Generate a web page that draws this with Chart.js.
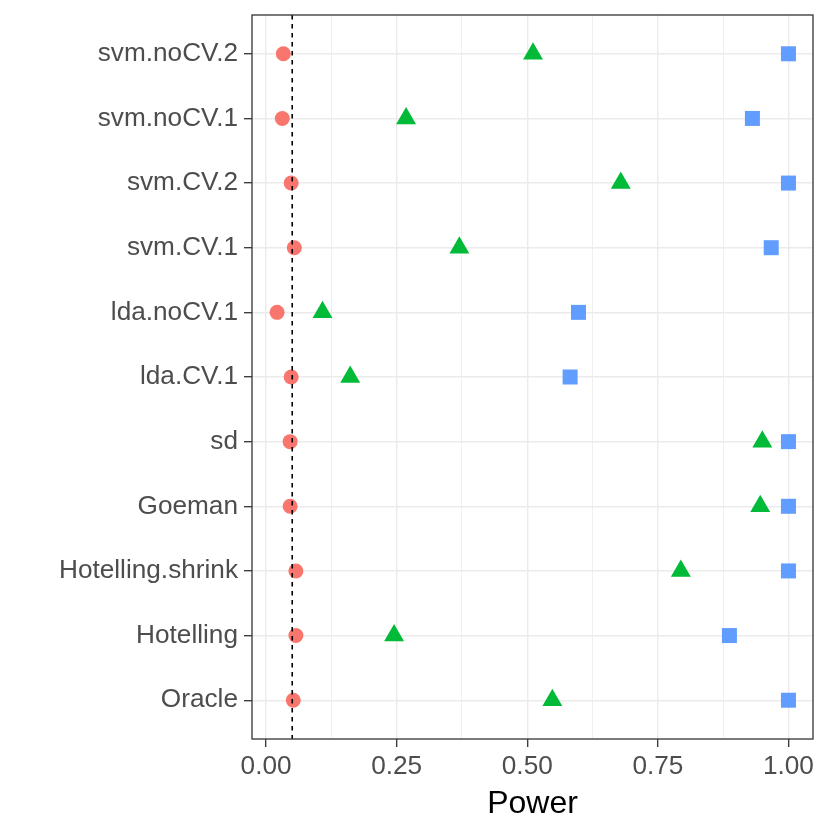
<!DOCTYPE html>
<html lang="en">
<head>
    <meta charset="UTF-8">
    <title>Power</title>
    <script src="https://cdn.jsdelivr.net/npm/chart.js"></script>
    <style>
        html, body { margin: 0; padding: 0; background: #fff; }
        #wrap { width: 830px; height: 830px; }
    </style>
</head>
<body>
<div id="wrap"><canvas id="powerChart" width="830" height="830"></canvas></div>
<script>
    // methods, top to bottom
    const methods = ['svm.noCV.2', 'svm.noCV.1', 'svm.CV.2', 'svm.CV.1', 'lda.noCV.1', 'lda.CV.1',
                     'sd', 'Goeman', 'Hotelling.shrink', 'Hotelling', 'Oracle'];
    // power for each of the three settings (red circle, green triangle, blue square)
    const powerRed   = [0.033, 0.031, 0.048, 0.054, 0.021, 0.048, 0.046, 0.046, 0.057, 0.057, 0.052];
    const powerGreen = [0.511, 0.268, 0.679, 0.370, 0.108, 0.161, 0.950, 0.946, 0.794, 0.245, 0.548];
    const powerBlue  = [1.000, 0.931, 1.000, 0.967, 0.598, 0.582, 1.000, 1.000, 1.000, 0.887, 1.000];
    const xTicks = [0, 0.125, 0.25, 0.375, 0.5, 0.625, 0.75, 0.875, 1];
    const alphaLevel = 0.05;

    function toPoints(vals) {
        return vals.map((v, i) => ({ x: v, y: i }));
    }
    function isMajor(v) {
        return Math.abs(v * 4 - Math.round(v * 4)) < 1e-6;
    }

    // dashed reference line + panel border
    const overlay = {
        id: 'overlay',
        afterDatasetsDraw(chart) {
            const { ctx, chartArea, scales } = chart;
            const px = scales.x.getPixelForValue(alphaLevel);
            ctx.save();
            ctx.strokeStyle = '#000';
            ctx.lineWidth = 1.6;
            ctx.setLineDash([4.5, 4.5]);
            ctx.beginPath();
            ctx.moveTo(px, chartArea.top);
            ctx.lineTo(px, chartArea.bottom);
            ctx.stroke();
            ctx.setLineDash([]);
            ctx.strokeStyle = '#333333';
            ctx.lineWidth = 1.3;
            ctx.strokeRect(chartArea.left, chartArea.top,
                chartArea.right - chartArea.left, chartArea.bottom - chartArea.top);
            ctx.restore();
        }
    };

    const ctx = document.getElementById('powerChart').getContext('2d');
    new Chart(ctx, {
        type: 'scatter',
        data: {
            datasets: [
                { data: toPoints(powerRed), pointStyle: 'circle', pointRadius: 7.5,
                  backgroundColor: '#F8766D', borderWidth: 0, pointHoverRadius: 7.5 },
                { data: toPoints(powerGreen), pointStyle: 'triangle', pointRadius: 11.5,
                  backgroundColor: '#00BA38', borderWidth: 0, pointHoverRadius: 11.5 },
                { data: toPoints(powerBlue), pointStyle: 'rect', pointRadius: 10.6,
                  backgroundColor: '#619CFF', borderWidth: 0, pointHoverRadius: 10.6 }
            ]
        },
        options: {
            responsive: false,
            animation: false,
            layout: { padding: { top: 15, right: 17, left: 0, bottom: 0 } },
            plugins: { legend: { display: false }, tooltip: { enabled: false } },
            scales: {
                x: {
                    type: 'linear',
                    min: -0.027,
                    max: 1.047,
                    afterBuildTicks: (scale) => { scale.ticks = xTicks.map(v => ({ value: v })); },
                    afterFit: (scale) => { scale.height = 91; scale.paddingLeft = 0; scale.paddingRight = 0; },
                    grid: {
                        color: '#EBEBEB',
                        lineWidth: (c) => (c.tick && isMajor(c.tick.value)) ? 1.4 : 0.8,
                        tickColor: (c) => (c.tick && isMajor(c.tick.value)) ? '#333333' : 'rgba(0,0,0,0)',
                        tickWidth: 1.3,
                        tickLength: 8
                    },
                    border: { display: false },
                    ticks: {
                        autoSkip: false,
                        maxRotation: 0,
                        padding: 4,
                        color: '#4D4D4D',
                        font: { family: 'Liberation Sans, Arial, sans-serif', size: 26.2 },
                        callback: (v) => isMajor(v) ? v.toFixed(2) : ''
                    },
                    title: {
                        display: true,
                        text: 'Power',
                        color: '#000',
                        padding: { top: 2, bottom: 7 },
                        font: { family: 'Liberation Sans, Arial, sans-serif', size: 32 }
                    }
                },
                y: {
                    type: 'linear',
                    reverse: true,
                    min: -0.6,
                    max: methods.length - 0.4,
                    afterBuildTicks: (scale) => { scale.ticks = methods.map((m, i) => ({ value: i })); },
                    afterFit: (scale) => { scale.width = 252; scale.paddingTop = 0; scale.paddingBottom = 0; },
                    grid: {
                        color: '#EBEBEB',
                        lineWidth: 1.4,
                        tickColor: '#333333',
                        tickWidth: 1.3,
                        tickLength: 8
                    },
                    border: { display: false },
                    ticks: {
                        autoSkip: false,
                        padding: 6,
                        color: '#4D4D4D',
                        font: { family: 'Liberation Sans, Arial, sans-serif', size: 26.2 },
                        callback: (v) => methods[v]
                    }
                }
            }
        },
        plugins: [overlay]
    });
</script>
</body>
</html>
